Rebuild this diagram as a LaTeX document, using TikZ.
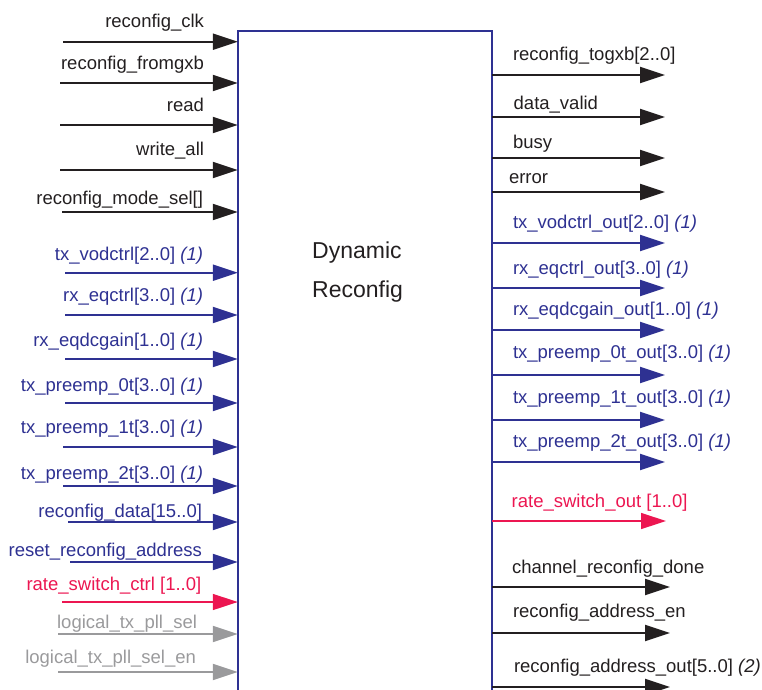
\documentclass[tikz,border=0pt]{standalone}
\usepackage{fontspec}
\setmainfont{Liberation Sans}
\usetikzlibrary{arrows.meta}
\definecolor{dblue}{HTML}{2E3192}
\definecolor{dred}{HTML}{EC1651}
\definecolor{dgray}{HTML}{9A9A9C}
\definecolor{dblack}{HTML}{231F20}
\tikzset{
  lbl/.style={inner sep=0pt, font=\fontsize{18.5}{22}\selectfont},
  blk/.style={color=dblack, line width=2pt},
  blu/.style={color=dblue, line width=2pt},
  rdd/.style={color=dred, line width=1.4pt},
  gry/.style={color=dgray, line width=2pt},
  sig/.style={-{Triangle[length=25pt,width=16pt]}},
  boxline/.style={draw=dblue, line width=1.5pt},
}
\newcommand\sigL[7]{%
  \node[lbl,#6,anchor=base east] (#1) at (#5,#4) {#7};
  \coordinate (#1s) at (#3,#2);
  \draw[#6,sig] (#1s) -- (#1s -| box.west);
}
\newcommand\sigR[7]{%
  \node[lbl,#6,anchor=base west] (#1) at (#5,#4) {#7};
  \coordinate (#1e) at (#3,#2);
  \draw[#6,sig] (#1e -| box.east) -- (#1e);
}
\begin{document}
\begin{tikzpicture}[x=1pt,y=-1pt]
\useasboundingbox (0,0) rectangle (762,689);
\node[minimum width=254pt, minimum height=660pt, inner sep=0pt, draw=none] (box) at (365,361) {};
\draw[boxline] (box.south west) -- (box.north west) -- (box.north east) -- (box.south east);
\node[font=\fontsize{23}{28}\selectfont, color=dblack, inner sep=0pt, anchor=base west] (dyn) at (312,258.3) {Dynamic};
\node[font=\fontsize{23}{28}\selectfont, color=dblack, inner sep=0pt, anchor=base west] (rec) at (312,297.7) {Reconfig};
% left inputs
\sigL{clk}{41.7}{63}{27.3}{205}{blk}{reconfig\_clk}
\sigL{fromgxb}{83}{60}{69}{205}{blk}{reconfig\_fromgxb}
\sigL{read}{125}{60}{111.7}{205}{blk}{read}
\sigL{write}{170}{60}{155}{205}{blk}{write\_all}
\sigL{modesel}{212}{62}{204}{204}{blk}{reconfig\_mode\_sel[]}
\sigL{vod}{272.7}{65}{260}{204}{blu}{tx\_vodctrl[2..0] \textit{(1)}}
\sigL{eqctrl}{315}{65}{301.7}{204}{blu}{rx\_eqctrl[3..0] \textit{(1)}}
\sigL{eqdc}{359}{65}{346}{204}{blu}{rx\_eqdcgain[1..0] \textit{(1)}}
\sigL{pre0}{403}{65}{391.7}{204}{blu}{tx\_preemp\_0t[3..0] \textit{(1)}}
\sigL{pre1}{447}{63}{433}{204}{blu}{tx\_preemp\_1t[3..0] \textit{(1)}}
\sigL{pre2}{486}{63}{479}{204}{blu}{tx\_preemp\_2t[3..0] \textit{(1)}}
\sigL{rdata}{522}{68}{517}{203}{blu}{reconfig\_data[15..0]}
\sigL{reset}{562}{70}{556}{203}{blu}{reset\_reconfig\_address}
\sigL{rate}{602}{62}{590}{202}{rdd}{rate\_switch\_ctrl [1..0]}
\sigL{lsel}{634}{58}{628}{198}{gry}{logical\_tx\_pll\_sel}
\sigL{lselen}{672}{58}{663}{197}{gry}{logical\_tx\_pll\_sel\_en}
% right outputs
\sigR{togxb}{75}{665}{60.7}{512}{blk}{reconfig\_togxb[2..0]}
\sigR{dvalid}{117}{665}{109}{512.7}{blk}{data\_valid}
\sigR{busy}{158}{665}{148}{512}{blk}{busy}
\sigR{error}{192}{665}{183}{508}{blk}{error}
\sigR{vodo}{243}{665}{228}{512}{blu}{tx\_vodctrl\_out[2..0] \textit{(1)}}
\sigR{eqo}{288}{665}{274}{512}{blu}{rx\_eqctrl\_out[3..0] \textit{(1)}}
\sigR{eqdco}{330}{665}{315}{512}{blu}{rx\_eqdcgain\_out[1..0] \textit{(1)}}
\sigR{pzo}{375}{665}{358}{512}{blu}{tx\_preemp\_0t\_out[3..0] \textit{(1)}}
\sigR{poo}{420}{665}{403}{512}{blu}{tx\_preemp\_1t\_out[3..0] \textit{(1)}}
\sigR{pto}{462}{665}{447}{512}{blu}{tx\_preemp\_2t\_out[3..0] \textit{(1)}}
\sigR{rateo}{521}{666}{507}{511}{rdd}{rate\_switch\_out [1..0]}
\sigR{chdone}{587}{670}{573}{511}{blk}{channel\_reconfig\_done}
\sigR{aen}{633}{670}{617}{512}{blk}{reconfig\_address\_en}
\sigR{aout}{687}{670}{672}{513}{blk}{reconfig\_address\_out[5..0] \textit{(2)}}
\end{tikzpicture}
\end{document}
